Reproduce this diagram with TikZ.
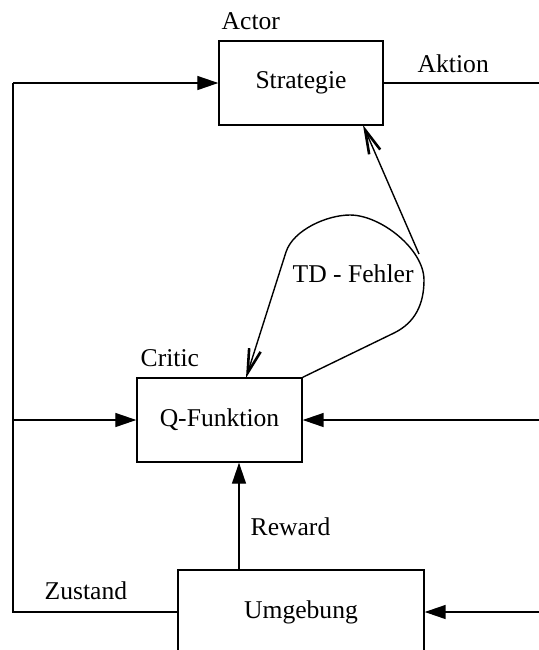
\documentclass[tikz,border=0pt]{standalone}
\usepackage{fontspec}
\setmainfont{Liberation Serif}
\usetikzlibrary{arrows.meta}
\usetikzlibrary{calc}

\begin{document}
\begin{tikzpicture}[x=0.5pt,y=-0.5pt,line width=0.7pt,
  block/.style={draw,rectangle,minimum width=82pt,minimum height=42pt,font=\rmfamily\fontsize{12.8}{15}\selectfont},
  lbl/.style={inner sep=0pt,anchor=base west,font=\rmfamily\fontsize{12.8}{15}\selectfont},
  fill arrow/.style={-{Triangle[length=10.5pt,width=7pt]}},
  barb arrow/.style={-{Straight Barb[length=12pt,width=6pt,line width=1.3pt]}}]
\def\r{539}

\useasboundingbox (0,0) rectangle (\r,650);
\clip (0,0) rectangle (\r,650);

% Bloecke
\node[block] (strat) at (301,83) {Strategie};
\node[block,minimum width=82.5pt] (qfun) at (219.5,420) {Q-Funktion};
\node[block,minimum width=123pt] (env) at (301,612) {Umgebung};

\node[lbl] (actor) at (221,29) {Actor};
\node[lbl] (critic) at (140,366) {Critic};
\node[lbl] (aktion) at (417,72) {Aktion};
\node[lbl] (reward) at (250,535) {Reward};
\node[lbl] (zustand) at (44,599) {Zustand};
\node[lbl] (td) at (292,282) {TD - Fehler};

\coordinate (lt) at (13,83);
\coordinate (lm) at (13,420);
\coordinate (lb) at (13,612);
\coordinate (rt) at (\r,83);
\coordinate (rm) at (\r,420);
\coordinate (rb) at (\r,612);
\coordinate (rew) at (239,570);

\draw (env.west) -- (lb) -- (lt);
\draw[fill arrow] (lt) -- (strat.west);
\draw[fill arrow] (lm) -- (qfun.west);
\draw (strat.east) -- (rt);
\draw[fill arrow] (rm) -- (qfun.east);
\draw[fill arrow] (rb) -- (env.east);
\draw[fill arrow] (rew) -- (rew |- qfun.south);

% TD-Fehler Schleife
\coordinate (tdlow) at (394,333);
\coordinate (tdright) at (424,280);
\coordinate (tdtop) at (350,215);
\coordinate (tdleft) at (286,252);
\coordinate (tdtan) at (419,254);
\coordinate (qin) at (246,378);
\coordinate (stratin) at (363,125);

\draw[barb arrow] (qfun.north east) -- (tdlow) to[out=26,in=-90] (tdright)
  to[out=90,in=0,looseness=0.8] (tdtop) to[out=180,in=72,looseness=0.8] (tdleft) -- (qin);
\draw[barb arrow] (tdtan) -- (stratin);

\end{tikzpicture}
\end{document}
